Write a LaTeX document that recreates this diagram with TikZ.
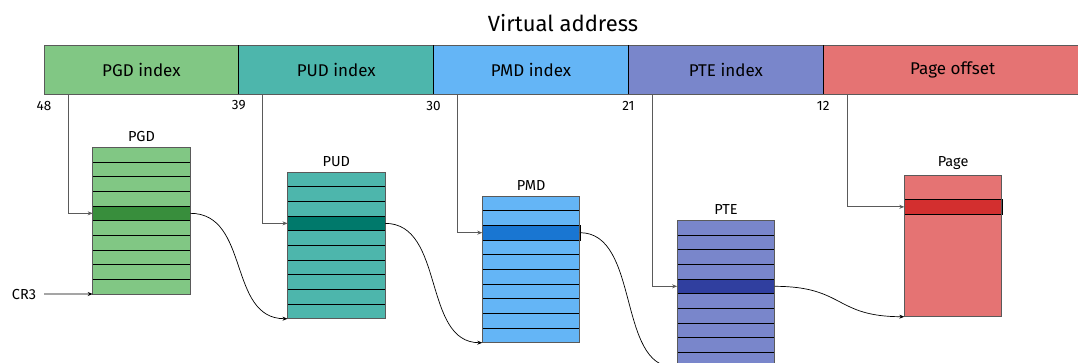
\documentclass[tikz,border=0pt]{standalone}
\usepackage{fontspec}
\setmainfont{Fira Sans}
\usetikzlibrary{arrows.meta,positioning}

% Material-style palette: light fill and dark (selected entry) fill per level
\definecolor{pgdL}{HTML}{81C784}\definecolor{pgdD}{HTML}{388E3C}
\definecolor{pudL}{HTML}{4DB6AC}\definecolor{pudD}{HTML}{00796B}
\definecolor{pmdL}{HTML}{64B5F6}\definecolor{pmdD}{HTML}{1976D2}
\definecolor{pteL}{HTML}{7986CB}\definecolor{pteD}{HTML}{303F9F}
\definecolor{pagL}{HTML}{E57373}\definecolor{pagD}{HTML}{D32F2F}
\definecolor{rim}{HTML}{5A5A5A}

\tikzset{
  field/.style={draw=rim, line width=0.9pt, minimum height=49pt, minimum width=194.8pt,
    inner sep=0pt, outer sep=0pt, anchor=north west, font=\fontsize{17}{20}\selectfont},
  table/.style={draw=rim, line width=0.9pt, minimum width=97.6pt, minimum height=146.7pt,
    inner sep=0pt, outer sep=0pt, anchor=north west},
  entry/.style={draw=black, line width=0.8pt, minimum width=97.6pt, minimum height=14.67pt,
    inner sep=0pt, outer sep=0pt, anchor=north west},
  tlabel/.style={font=\fontsize{14.5}{16}\selectfont, anchor=south, inner sep=0pt},
  bitno/.style={font=\fontsize{13.5}{15}\selectfont, anchor=center, inner sep=0pt},
  idx/.style={draw=rim, line width=0.8pt, -{Stealth[length=5pt,width=4pt]}},
  link/.style={draw=black, line width=0.7pt, -{Stealth[length=5pt,width=4pt]}},
}

\begin{document}
\begin{tikzpicture}[x=1pt,y=-1pt]
\useasboundingbox (0,0) rectangle (1078,362);

% title
\node[font=\fontsize{22}{26}\selectfont, inner sep=0pt] (title) at (563,23) {Virtual address};

% address fields
\node[field, fill=pgdL] (fpgd) at (44,45) {PGD index};
\node[field, fill=pudL] (fpud) at (238.8,45) {PUD index};
\node[field, fill=pmdL] (fpmd) at (433.6,45) {PMD index};
\node[field, fill=pteL] (fpte) at (628.4,45) {PTE index};
\node[field, fill=pagL, minimum width=259pt] (foff) at (823.2,45) {Page offset};
% black dividers between the fields
\foreach \b in {fpud,fpmd,fpte,foff}
  \draw[black, line width=0.9pt] (\b.north west) -- (\b.south west);

% bit numbers
\node[bitno] (b48) at (44,105.5) {48};
\node[bitno] (b39) at (238.8,105.5) {39};
\node[bitno] (b30) at (433.6,105.5) {30};
\node[bitno] (b21) at (628.4,105.5) {21};
\node[bitno] (b12) at (823.2,105.5) {12};

% page tables: frame, row separators, selected entry
\foreach \n/\x/\y/\sel/\lab in {pgd/92.7/147.3/4/PGD, pud/287.5/172/3/PUD, pmd/482.3/196/2/PMD, pte/677.1/220.3/4/PTE}{
  \node[table, fill=\n L] (\n) at (\x,\y) {};
  \node[tlabel] (\n lab) at ([yshift=5.5pt]\n.north) {\lab};
  \foreach \r in {1,...,9}
    \draw[black, line width=0.8pt] ([yshift=-\r*14.67pt]\n.north west) -- ([yshift=-\r*14.67pt]\n.north east);
  \node[entry, fill=\n D] (\n sel) at (\x,\y+\sel*14.67) {};
  \draw[rim, line width=0.9pt] (\n.north west) rectangle (\n.south east);
}

% the data page
\node[table, fill=pagL, minimum height=141.4pt] (pag) at (904.3,175.3) {};
\node[tlabel] (paglab) at ([yshift=5.5pt]pag.north) {Page};
\node[entry, fill=pagD] (pagsel) at (904.3,199.5) {};
\draw[rim, line width=0.9pt] (pag.north west) rectangle (pag.south east);

% index bits select an entry in each level
\draw[idx] ([xshift=24pt]fpgd.south west) |- (pgdsel.west);
\draw[idx] ([xshift=24pt]fpud.south west) |- (pudsel.west);
\draw[idx] ([xshift=24pt]fpmd.south west) |- (pmdsel.west);
\draw[idx] ([xshift=24pt]fpte.south west) |- (ptesel.west);
\draw[idx] ([xshift=24pt]foff.south west) |- (pagsel.west);

% CR3 points at the top-level table
\node[font=\fontsize{14.5}{16}\selectfont, inner sep=0pt] (cr3) at (24,294) {CR3};
\coordinate (cr3s) at (44,294);
\draw[link] (cr3s) -- (pgd.south west);

% each selected entry points to the base of the next level
\draw[link] (pgdsel.east) .. controls +(60,0) and +(-60,0) .. (pud.south west);
\draw[link] (pudsel.east) .. controls +(60,0) and +(-60,0) .. (pmd.south west);
\draw[link] (pmdsel.east) .. controls +(60,0) and +(-60,0) .. (pte.south west);
\draw[link] (ptesel.east) .. controls +(70,0) and +(-70,0) .. (pag.south west);
\end{tikzpicture}
\end{document}
